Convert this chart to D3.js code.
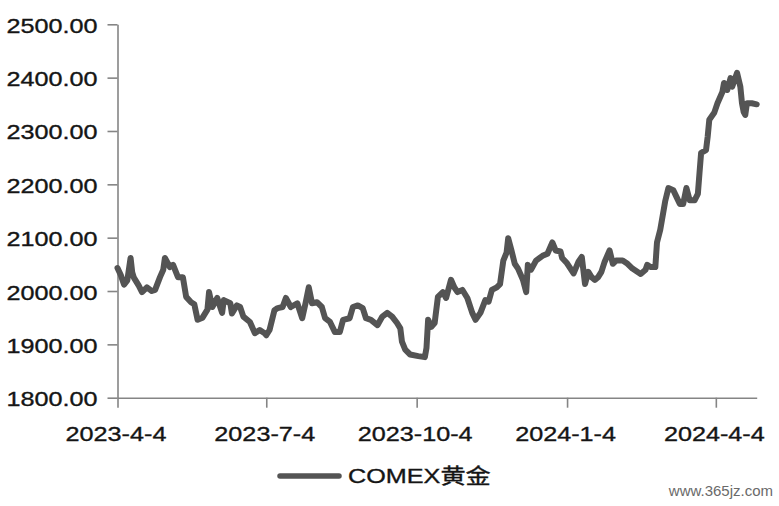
<!DOCTYPE html>
<html>
<head>
<meta charset="utf-8">
<script src="https://cdn.jsdelivr.net/npm/d3@7"></script>
<style>
  html, body { margin: 0; padding: 0; background: #fff; }
  svg { display: block; }
  text { font-family: "Liberation Sans", Arial, "Noto Sans CJK SC", sans-serif; fill: #151515; }
</style>
</head>
<body>
<svg id="chart" width="779" height="506"></svg>
<script>
// ---- Data ----
const dates = [
  "2023-04-04","2023-04-06","2023-04-08","2023-04-10","2023-04-12","2023-04-13","2023-04-14","2023-04-17",
  "2023-04-19","2023-04-22","2023-04-25","2023-04-27","2023-04-30","2023-05-02","2023-05-03","2023-05-06",
  "2023-05-08","2023-05-11","2023-05-14","2023-05-16","2023-05-19","2023-05-21","2023-05-23","2023-05-26",
  "2023-05-29","2023-05-30","2023-06-01","2023-06-04","2023-06-07","2023-06-08","2023-06-12","2023-06-13",
  "2023-06-16","2023-06-18","2023-06-20","2023-06-24","2023-06-27","2023-06-30","2023-07-03","2023-07-04",
  "2023-07-06","2023-07-09","2023-07-11","2023-07-14","2023-07-16","2023-07-19","2023-07-23","2023-07-26",
  "2023-07-28","2023-07-30","2023-08-01","2023-08-04","2023-08-07","2023-08-09","2023-08-12","2023-08-15",
  "2023-08-18","2023-08-20","2023-08-24","2023-08-26","2023-08-29","2023-09-01","2023-09-03","2023-09-06",
  "2023-09-10","2023-09-13","2023-09-16","2023-09-19","2023-09-22","2023-09-24","2023-09-25","2023-09-27",
  "2023-09-30","2023-10-05","2023-10-09","2023-10-10","2023-10-11","2023-10-13","2023-10-15","2023-10-17",
  "2023-10-20","2023-10-22","2023-10-25","2023-10-27","2023-10-29","2023-11-01","2023-11-04","2023-11-07",
  "2023-11-09","2023-11-12","2023-11-15","2023-11-17","2023-11-19","2023-11-22","2023-11-24","2023-11-26",
  "2023-11-28","2023-11-29","2023-12-01","2023-12-03","2023-12-05","2023-12-08","2023-12-10","2023-12-11",
  "2023-12-13","2023-12-16","2023-12-20","2023-12-23","2023-12-26","2023-12-28","2023-12-31","2024-01-01",
  "2024-01-04","2024-01-08","2024-01-11","2024-01-13","2024-01-15","2024-01-17","2024-01-19","2024-01-21",
  "2024-01-23","2024-01-25","2024-01-27","2024-01-30","2024-02-01","2024-02-03","2024-02-07","2024-02-10",
  "2024-02-13","2024-02-18","2024-02-21","2024-02-22","2024-02-24","2024-02-27","2024-02-28","2024-03-01",
  "2024-03-04","2024-03-06","2024-03-09","2024-03-11","2024-03-13","2024-03-15","2024-03-17","2024-03-19",
  "2024-03-22","2024-03-24","2024-03-25","2024-03-26","2024-03-29","2024-03-30","2024-03-31","2024-04-03",
  "2024-04-05","2024-04-08","2024-04-09","2024-04-11","2024-04-13","2024-04-14","2024-04-17","2024-04-19",
  "2024-04-20","2024-04-21","2024-04-22","2024-04-23","2024-04-26","2024-04-29"
];
const goldPrices = [
  2043,2030,2012,2020,2062,2035,2025,2010,
  1998,2007,2000,2002,2026,2040,2062,2045,
  2049,2026,2026,1989,1979,1975,1946,1950,
  1965,1998,1970,1987,1959,1983,1977,1958,
  1973,1970,1952,1942,1921,1927,1921,1917,
  1927,1964,1968,1970,1987,1970,1977,1949,
  1977,2007,1977,1979,1970,1949,1942,1923,
  1923,1946,1949,1970,1973,1968,1949,1946,
  1936,1952,1959,1952,1940,1930,1905,1890,
  1881,1878,1876,1893,1946,1933,1940,1989,
  1998,1987,2021,2007,1998,2002,1987,1959,
  1946,1959,1983,1980,2002,2007,2013,2057,
  2072,2099,2076,2051,2042,2021,1998,2049,
  2040,2057,2066,2070,2091,2076,2074,2062,
  2052,2033,2055,2064,2013,2036,2026,2021,
  2026,2036,2055,2076,2051,2057,2057,2051,
  2042,2032,2040,2049,2045,2045,2091,2115,
  2168,2193,2189,2176,2163,2163,2193,2170,
  2170,2182,2221,2259,2264,2289,2321,2334,
  2352,2373,2390,2377,2399,2383,2409,2383,
  2352,2336,2330,2352,2352,2350
];
const yTickValues = [1800, 1900, 2000, 2100, 2200, 2300, 2400, 2500];
const xTickLabels = ["2023-4-4", "2023-7-4", "2023-10-4", "2024-1-4", "2024-4-4"];
const xDomain = ["2023-04-04", "2024-04-29"];
const seriesName = "COMEX黄金";
const watermark = "www.365jz.com";

// ---- Drawing ----
(function () {
const parse = d3.timeParse("%Y-%m-%d");
const tickParse = d3.timeParse("%Y-%-m-%-d");
const data = dates.map((d, i) => ({ date: parse(d), value: goldPrices[i] }));

const svg = d3.select("#chart");
const mLeft = 117.5, mRight = 756.7, mTop = 24.3, mBottom = 397.7;
const sx = 1.2; // horizontal stretch of the text in the reference
const textColor = "#151515";

const x = d3.scaleTime().domain(xDomain.map(parse)).range([mLeft, mRight]);
const y = d3.scaleLinear().domain([1800, 2500]).range([mBottom, mTop]);

const axisColor = "#858585";

function styleText(sel) {
  sel.style("font-size", "21px").style("fill", textColor)
     .style("stroke", textColor).style("stroke-width", 0.35);
}

// Y axis
const yAxis = svg.append("g")
  .attr("transform", `translate(${mLeft},0)`)
  .call(d3.axisLeft(y).tickValues(yTickValues).tickSize(10).tickSizeOuter(0)
    .tickFormat(d3.format(".2f")));
yAxis.select(".domain").attr("stroke", axisColor).attr("stroke-width", 1.6);
yAxis.selectAll(".tick line").attr("stroke", axisColor).attr("stroke-width", 1.6);
yAxis.selectAll(".tick text")
  .attr("x", -20 / sx).attr("dy", "0.38em")
  .attr("transform", `scale(${sx},1)`)
  .call(styleText);

// X axis
const xAxis = svg.append("g")
  .attr("transform", `translate(0,${mBottom})`)
  .call(d3.axisBottom(x).tickValues(xTickLabels.map(tickParse)).tickSize(10).tickSizeOuter(0)
    .tickFormat((d, i) => xTickLabels[i]));
xAxis.select(".domain").attr("stroke", axisColor).attr("stroke-width", 1.6);
xAxis.selectAll(".tick line").attr("stroke", axisColor).attr("stroke-width", 1.6);
xAxis.selectAll(".tick text")
  .attr("y", 43).attr("dy", 0).attr("x", -2 / sx)
  .attr("transform", `scale(${sx},1)`)
  .call(styleText);
xAxis.attr("font-family", null); yAxis.attr("font-family", null);

// Line
const line = d3.line().x(d => x(d.date)).y(d => y(d.value));
svg.append("path")
  .datum(data)
  .attr("fill", "none")
  .attr("stroke", "#545454")
  .attr("stroke-width", 6)
  .attr("stroke-linejoin", "round")
  .attr("stroke-linecap", "round")
  .attr("d", line);

// Legend
const legend = svg.append("g");
legend.append("line")
  .attr("x1", 280).attr("x2", 339).attr("y1", 476).attr("y2", 476)
  .attr("stroke", "#545454").attr("stroke-width", 5.5).attr("stroke-linecap", "round");
legend.append("text")
  .attr("transform", `translate(348,483) scale(${sx},1)`)
  .call(styleText)
  .text(seriesName);

// Watermark
svg.append("text")
  .attr("x", 773).attr("y", 496).attr("text-anchor", "end")
  .style("font-size", "15px").style("fill", "#6a6a6a")
  .text(watermark);
})();
</script>
</body>
</html>
